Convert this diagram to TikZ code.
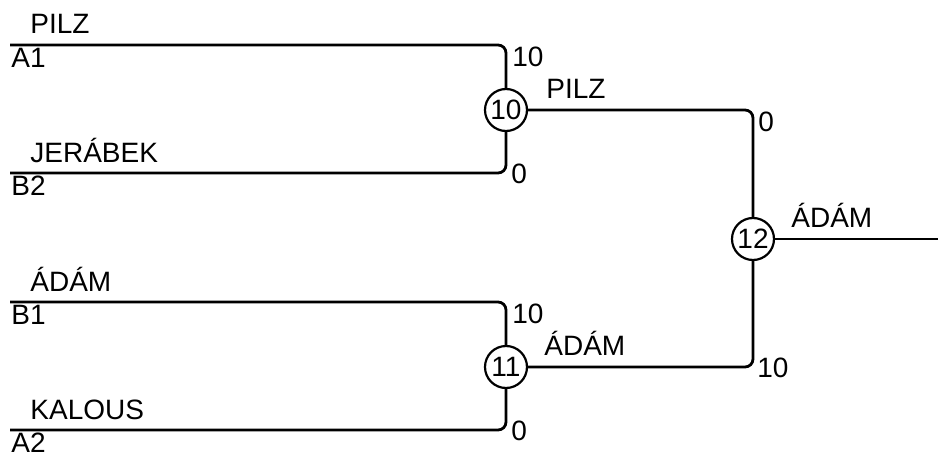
\documentclass[tikz,border=0pt]{standalone}
\usepackage{fontspec}
\setmainfont{Liberation Sans}
\begin{document}
\begin{tikzpicture}[x=1pt, y=-1pt, line width=2.8pt,
		match/.style={draw, circle, line width=2.2pt, minimum size=42pt, inner sep=0pt},
		label text/.style={inner sep=0pt, font=\fontsize{28}{32}\selectfont},
		wire/.style={rounded corners=8pt}]
	\useasboundingbox (0,0) rectangle (938,455);
	% matches
	\node[match, label text] (m10) at (506,110) {10};
	\node[match, label text] (m11) at (506,367) {11};
	\node[match, label text] (m12) at (753,239) {12};
	% first round entries
	\foreach \n/\y/\team/\slot in {
			a1/45/PILZ/A1,
			b2/173/JERÁBEK/B2,
			b1/302/ÁDÁM/B1,
			a2/430/KALOUS/A2
		} {
			\coordinate (\n) at (10,\y);
			\node[label text, anchor=base west] (\n-team) at (29,\y-11) {\team};
			\node[label text, anchor=base west] (\n-slot) at (10,\y+22) {\slot};
		}
	\draw[wire] (a1) -| (m10);
	\draw[wire] (b2) -| (m10);
	\draw[wire] (b1) -| (m11);
	\draw[wire] (a2) -| (m11);
	\draw[wire] (m10) -| (m12);
	\draw[wire] (m11) -| (m12);
	\coordinate (final) at (938,239);
	\draw (m12) -- (final);
	% scores
	\node[label text, anchor=north west] (s-a1) at (511,46) {10};
	\node[label text, anchor=west] (s-b2) at (510,174) {0};
	\node[label text, anchor=north west] (s-b1) at (511,303) {10};
	\node[label text, anchor=west] (s-a2) at (510,431) {0};
	\node[label text, anchor=north west] (s-m10) at (757,111) {0};
	\node[label text, anchor=west] (s-m11) at (756,368) {10};
	% winners
	\node[label text, anchor=base west] (w10) at (545,98) {PILZ};
	\node[label text, anchor=base west] (w11) at (543,355) {ÁDÁM};
	\node[label text, anchor=base west] (w12) at (790,227) {ÁDÁM};
\end{tikzpicture}
\end{document}
